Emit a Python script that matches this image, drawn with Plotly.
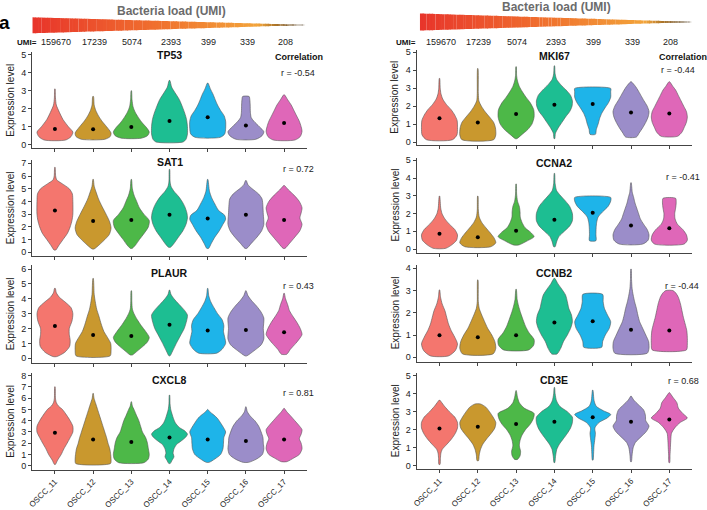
import plotly.graph_objects as go

# ---------------- data ----------------
samples = ["OSCC_11", "OSCC_12", "OSCC_13", "OSCC_14", "OSCC_15", "OSCC_16", "OSCC_17"]
umi_counts = [159670, 17239, 5074, 2393, 399, 339, 208]
colors = ["#F4766E", "#C9982E", "#4DB848", "#1DBE92", "#1EB4E9", "#9B8DC9", "#DF67B8"]

genes = ["TP53", "SAT1", "PLAUR", "CXCL8", "MKI67", "CCNA2", "CCNB2", "CD3E"]
correlations = [-0.54, 0.72, 0.43, 0.81, -0.44, -0.41, -0.44, 0.68]

# violin outlines: expression levels and relative half-widths (density) per sample
tp53_levels = [
    [0.26, 0.45, 0.7, 1.0, 1.4, 1.8, 2.2, 2.6, 3.1],
    [0.3, 0.45, 0.65, 1.0, 1.3, 1.6, 1.9, 2.2, 2.68],
    [0.36, 0.5, 0.7, 0.95, 1.2, 1.5, 1.8, 2.1, 2.5, 3.0],
    [0.15, 0.3, 0.6, 1.0, 1.4, 1.75, 2.1, 2.5, 2.9, 3.2, 3.57],
    [0.41, 0.6, 0.9, 1.3, 1.6, 1.9, 2.2, 2.5, 2.8, 3.1, 3.42],
    [0.3, 0.5, 0.72, 1.0, 1.3, 1.5, 1.8, 2.2, 2.5, 2.68],
    [0.26, 0.45, 0.75, 1.0, 1.3, 1.6, 1.9, 2.2, 2.5, 2.77],
]
tp53_widths = [
    [0.6, 0.9, 1.0, 0.75, 0.45, 0.25, 0.08, 0.03, 0.01],
    [0.65, 0.95, 1.0, 0.75, 0.5, 0.3, 0.15, 0.06, 0.02],
    [0.55, 0.9, 1.0, 0.85, 0.62, 0.4, 0.22, 0.1, 0.04, 0.01],
    [0.75, 0.92, 1.0, 1.0, 0.95, 0.85, 0.72, 0.55, 0.3, 0.12, 0.02],
    [0.7, 0.95, 1.0, 1.0, 0.92, 0.72, 0.55, 0.42, 0.3, 0.15, 0.02],
    [0.55, 0.9, 1.0, 0.75, 0.45, 0.3, 0.25, 0.24, 0.22, 0.18],
    [0.6, 0.9, 1.0, 0.95, 0.85, 0.7, 0.55, 0.4, 0.2, 0.02],
]
tp53_means = [0.87, 0.86, 0.99, 1.32, 1.53, 1.06, 1.21]

sat1_levels = [
    [0.18, 0.5, 1.0, 1.5, 2.0, 2.5, 3.0, 4.0, 4.6, 5.0, 5.4, 5.7, 6.0, 6.69],
    [0.26, 0.6, 1.0, 1.4, 1.9, 2.4, 3.0, 3.6, 4.2, 4.8, 5.2, 5.74],
    [0.31, 0.6, 1.0, 1.5, 2.0, 2.5, 3.0, 3.5, 4.0, 4.5, 5.0, 5.74],
    [0.39, 0.7, 1.2, 1.7, 2.2, 2.7, 3.1, 3.6, 4.0, 4.4, 4.8, 5.2, 5.6, 6.53],
    [0.31, 0.7, 1.2, 1.7, 2.2, 2.6, 2.9, 3.3, 3.8, 4.3, 4.8, 5.74],
    [0.31, 0.7, 1.2, 1.7, 2.2, 3.0, 3.6, 4.2, 4.6, 5.0, 5.3, 5.64],
    [0.31, 0.7, 1.2, 1.7, 2.2, 2.7, 3.1, 3.5, 4.0, 4.5, 4.9, 5.25],
]
sat1_widths = [
    [0.05, 0.2, 0.45, 0.7, 0.85, 0.95, 1.0, 1.0, 0.97, 0.8, 0.4, 0.1, 0.04, 0.01],
    [0.05, 0.35, 0.65, 0.9, 1.0, 0.92, 0.72, 0.5, 0.3, 0.15, 0.06, 0.01],
    [0.05, 0.25, 0.45, 0.72, 0.95, 1.0, 0.7, 0.45, 0.3, 0.15, 0.06, 0.01],
    [0.05, 0.25, 0.5, 0.75, 0.92, 1.0, 0.97, 0.85, 0.7, 0.5, 0.25, 0.08, 0.03, 0.01],
    [0.05, 0.2, 0.4, 0.65, 0.85, 1.0, 0.95, 0.6, 0.4, 0.22, 0.1, 0.01],
    [0.05, 0.3, 0.62, 0.88, 1.0, 0.97, 0.95, 0.9, 0.7, 0.35, 0.12, 0.02],
    [0.05, 0.3, 0.6, 0.88, 1.0, 0.88, 0.95, 1.0, 0.85, 0.55, 0.25, 0.02],
]
sat1_means = [3.28, 2.46, 2.54, 2.96, 2.65, 2.96, 2.54]

plaur_levels = [
    [0.11, 0.4, 0.8, 1.2, 1.6, 2.0, 2.5, 3.0, 3.4, 3.8, 4.1, 4.4, 4.7],
    [0.16, 0.5, 1.0, 1.4, 1.8, 2.3, 2.8, 3.3, 3.8, 4.3, 5.37],
    [0.22, 0.5, 0.8, 1.1, 1.4, 1.8, 2.2, 2.6, 3.0, 3.3, 3.8, 4.54],
    [0.16, 0.5, 1.0, 1.5, 2.0, 2.5, 2.9, 3.2, 3.6, 4.0, 4.3, 4.59],
    [0.34, 0.6, 1.0, 1.4, 1.8, 2.2, 2.6, 3.0, 3.4, 3.8, 4.2, 4.7],
    [0.16, 0.5, 0.9, 1.3, 2.0, 2.7, 3.1, 3.5, 3.9, 4.2, 4.54],
    [0.27, 0.6, 1.0, 1.3, 1.6, 2.0, 2.4, 2.8, 3.2, 3.6, 4.0, 4.37],
]
plaur_widths = [
    [0.1, 0.55, 0.82, 0.85, 0.8, 0.8, 0.95, 1.0, 0.9, 0.55, 0.25, 0.08, 0.02],
    [0.95, 1.0, 0.98, 0.8, 0.6, 0.45, 0.33, 0.2, 0.12, 0.06, 0.01],
    [0.06, 0.35, 0.65, 0.9, 1.0, 0.8, 0.55, 0.33, 0.15, 0.06, 0.03, 0.01],
    [0.03, 0.18, 0.38, 0.6, 0.82, 0.95, 1.0, 0.85, 0.55, 0.25, 0.08, 0.01],
    [0.5, 0.8, 1.0, 0.95, 0.88, 0.9, 0.8, 0.55, 0.35, 0.17, 0.06, 0.01],
    [0.05, 0.45, 0.85, 1.0, 0.97, 1.0, 0.85, 0.6, 0.3, 0.12, 0.01],
    [0.15, 0.35, 0.65, 0.85, 1.0, 0.9, 0.72, 0.5, 0.3, 0.2, 0.08, 0.01],
]
plaur_means = [2.17, 1.57, 1.5, 2.26, 1.86, 1.9, 1.75]

cxcl8_levels = [
    [0.12, 0.5, 1.0, 1.5, 2.0, 2.5, 3.0, 3.5, 4.0, 4.5, 5.0, 5.3, 5.6, 6.0, 7.02],
    [0.2, 0.6, 1.0, 1.5, 2.0, 2.5, 3.0, 3.5, 4.0, 4.5, 5.0, 5.5, 6.0, 6.43],
    [0.27, 0.6, 1.0, 1.5, 2.0, 2.5, 3.0, 3.5, 4.0, 4.5, 5.0, 5.3, 5.69],
    [0.2, 0.5, 0.8, 1.1, 1.5, 1.9, 2.2, 2.5, 2.8, 3.1, 3.4, 3.8, 4.2, 4.6, 5.0, 5.5, 6.28],
    [0.3, 0.6, 1.0, 1.5, 2.0, 2.5, 3.0, 3.4, 3.8, 4.2, 4.5, 4.8, 5.0],
    [0.3, 0.6, 1.0, 1.5, 2.0, 2.5, 3.0, 3.5, 4.0, 4.4, 4.8, 5.24],
    [0.36, 0.7, 1.0, 1.5, 2.0, 2.4, 2.8, 3.2, 3.6, 4.0, 4.4, 4.8, 5.1],
]
cxcl8_widths = [
    [0.03, 0.15, 0.35, 0.5, 0.68, 0.85, 1.0, 1.0, 0.85, 0.65, 0.42, 0.2, 0.08, 0.03, 0.01],
    [0.97, 1.0, 0.98, 0.93, 0.83, 0.75, 0.65, 0.55, 0.45, 0.35, 0.25, 0.15, 0.05, 0.01],
    [0.7, 0.95, 1.0, 0.95, 0.9, 0.8, 0.62, 0.52, 0.42, 0.28, 0.15, 0.06, 0.01],
    [0.04, 0.15, 0.25, 0.2, 0.25, 0.4, 0.65, 0.88, 1.0, 0.85, 0.55, 0.33, 0.22, 0.14, 0.07, 0.03, 0.01],
    [0.08, 0.4, 0.72, 0.85, 0.88, 0.9, 1.0, 0.88, 0.72, 0.55, 0.35, 0.12, 0.01],
    [0.15, 0.6, 0.92, 1.0, 0.97, 0.95, 0.85, 0.72, 0.5, 0.25, 0.08, 0.01],
    [0.15, 0.55, 0.85, 1.0, 0.95, 0.85, 0.95, 1.0, 0.82, 0.6, 0.38, 0.15, 0.01],
]
cxcl8_means = [2.93, 2.34, 2.1, 2.52, 2.34, 2.19, 2.34]

mki67_levels = [
    [0.13, 0.4, 0.8, 1.2, 1.5, 1.8, 2.1, 2.4, 2.7, 3.0, 3.55],
    [0.13, 0.4, 0.8, 1.1, 1.4, 1.7, 2.0, 2.3, 2.7, 4.1],
    [0.19, 0.4, 0.7, 1.0, 1.4, 1.8, 2.2, 2.5, 2.8, 3.1, 3.4, 3.7, 4.2],
    [0.19, 0.5, 0.8, 1.1, 1.4, 1.7, 2.0, 2.3, 2.6, 2.9, 3.2, 3.5, 3.8, 4.25],
    [0.43, 0.7, 1.0, 1.3, 1.6, 1.9, 2.2, 2.5, 2.8, 2.99],
    [0.28, 0.5, 0.8, 1.1, 1.4, 1.7, 2.0, 2.3, 2.6, 2.9, 3.1, 3.36],
    [0.32, 0.55, 0.8, 1.1, 1.4, 1.7, 2.0, 2.3, 2.6, 2.9, 3.1, 3.36],
]
mki67_widths = [
    [0.72, 0.97, 1.0, 0.98, 0.85, 0.65, 0.38, 0.18, 0.08, 0.04, 0.01],
    [0.88, 1.0, 0.98, 0.88, 0.65, 0.4, 0.2, 0.06, 0.03, 0.01],
    [0.04, 0.3, 0.65, 0.88, 1.0, 0.98, 0.78, 0.55, 0.35, 0.18, 0.08, 0.03, 0.01],
    [0.02, 0.06, 0.22, 0.42, 0.62, 0.85, 0.98, 1.0, 0.9, 0.65, 0.35, 0.12, 0.04, 0.01],
    [0.15, 0.2, 0.3, 0.38, 0.5, 0.68, 0.88, 1.0, 1.0, 1.0],
    [0.3, 0.45, 0.65, 0.82, 0.95, 1.0, 0.9, 0.72, 0.55, 0.38, 0.25, 0.02],
    [0.45, 0.7, 0.82, 0.95, 1.0, 0.95, 0.8, 0.65, 0.5, 0.35, 0.2, 0.02],
]
mki67_means = [1.33, 1.09, 1.56, 2.08, 2.12, 1.65, 1.59]

ccna2_levels = [
    [0.04, 0.25, 0.5, 0.8, 1.1, 1.4, 1.7, 2.0, 2.3, 2.99],
    [0.13, 0.35, 0.6, 0.9, 1.2, 1.5, 1.8, 2.2, 2.99],
    [0.23, 0.45, 0.7, 0.95, 1.2, 1.5, 1.8, 2.1, 2.4, 2.7, 3.1, 3.67],
    [0.13, 0.4, 0.7, 1.0, 1.3, 1.6, 2.0, 2.4, 2.7, 3.0, 3.3, 3.7, 4.27],
    [0.47, 0.8, 1.2, 1.5, 1.8, 2.1, 2.4, 2.7, 2.91],
    [0.28, 0.5, 0.8, 1.1, 1.4, 1.7, 2.0, 2.3, 2.6, 2.9, 3.2, 3.74],
    [0.28, 0.5, 0.8, 1.1, 1.4, 1.7, 2.0, 2.3, 2.6, 2.86],
]
ccna2_widths = [
    [0.35, 0.7, 0.95, 1.0, 0.85, 0.55, 0.3, 0.14, 0.07, 0.01],
    [0.72, 1.0, 0.92, 0.7, 0.45, 0.22, 0.08, 0.03, 0.01],
    [0.15, 0.6, 1.0, 0.8, 0.5, 0.33, 0.23, 0.22, 0.18, 0.08, 0.03, 0.01],
    [0.04, 0.12, 0.25, 0.55, 0.85, 1.0, 1.0, 0.85, 0.62, 0.35, 0.12, 0.04, 0.01],
    [0.18, 0.18, 0.19, 0.22, 0.3, 0.55, 0.85, 1.0, 1.0],
    [0.65, 0.95, 1.0, 0.9, 0.7, 0.52, 0.42, 0.32, 0.22, 0.15, 0.07, 0.01],
    [0.82, 1.0, 0.95, 0.75, 0.45, 0.32, 0.3, 0.35, 0.38, 0.35],
]
ccna2_means = [0.86, 0.66, 1.03, 1.65, 2.05, 1.32, 1.17]

ccnb2_levels = [
    [0.06, 0.3, 0.6, 0.9, 1.2, 1.5, 1.8, 2.1, 2.4, 2.7, 3.03],
    [0.15, 0.4, 0.7, 1.0, 1.3, 1.6, 1.9, 2.2, 2.5, 3.48],
    [0.33, 0.55, 0.8, 1.1, 1.4, 1.7, 2.0, 2.3, 2.6, 3.06],
    [0.15, 0.4, 0.7, 1.0, 1.3, 1.6, 1.9, 2.2, 2.5, 2.8, 3.1, 3.3, 3.55],
    [0.45, 0.7, 1.0, 1.3, 1.6, 1.9, 2.2, 2.5, 2.83],
    [0.18, 0.4, 0.7, 1.0, 1.3, 1.6, 1.9, 2.2, 2.5, 2.8, 3.1, 3.5, 3.97],
    [0.33, 0.6, 0.9, 1.2, 1.5, 1.8, 2.1, 2.4, 2.7, 2.9, 3.0],
]
ccnb2_widths = [
    [0.5, 0.88, 1.0, 0.85, 0.65, 0.5, 0.4, 0.3, 0.15, 0.06, 0.01],
    [0.85, 1.0, 0.95, 0.78, 0.55, 0.38, 0.22, 0.08, 0.03, 0.01],
    [0.7, 0.98, 1.0, 0.72, 0.52, 0.38, 0.25, 0.14, 0.06, 0.01],
    [0.15, 0.35, 0.5, 0.72, 0.9, 1.0, 0.95, 0.8, 0.72, 0.62, 0.38, 0.2, 0.02],
    [0.5, 0.55, 0.7, 0.92, 1.0, 0.82, 0.65, 0.58, 0.55],
    [0.9, 1.0, 0.98, 0.82, 0.65, 0.48, 0.38, 0.3, 0.2, 0.12, 0.06, 0.03, 0.01],
    [0.95, 1.0, 1.0, 0.97, 0.88, 0.78, 0.7, 0.62, 0.5, 0.35, 0.2],
]
ccnb2_means = [0.99, 0.9, 0.99, 1.56, 1.62, 1.24, 1.2]

cd3e_levels = [
    [0.07, 0.4, 0.7, 0.9, 1.2, 1.5, 1.8, 2.1, 2.4, 2.7, 3.0, 3.3, 3.65],
    [0.28, 0.6, 0.9, 1.2, 1.5, 1.8, 2.1, 2.4, 2.7, 3.0, 3.25, 3.43],
    [0.35, 0.55, 0.8, 1.1, 1.4, 1.7, 2.0, 2.3, 2.6, 2.9, 3.2, 3.5, 3.8, 4.17],
    [0.17, 0.5, 0.9, 1.2, 1.5, 1.8, 2.1, 2.4, 2.7, 3.0, 3.3, 3.6, 4.0, 4.35],
    [0.31, 0.7, 1.1, 1.5, 1.8, 2.1, 2.4, 2.65, 2.85, 3.05, 3.3, 3.6, 4.2],
    [0.22, 0.6, 1.0, 1.3, 1.6, 1.9, 2.2, 2.5, 2.8, 3.1, 3.4, 3.65, 3.87],
    [0.17, 0.6, 1.0, 1.4, 1.8, 2.1, 2.4, 2.65, 2.9, 3.2, 3.5, 3.8, 4.06],
]
cd3e_widths = [
    [0.03, 0.05, 0.08, 0.15, 0.42, 0.68, 0.88, 1.0, 1.0, 0.85, 0.55, 0.28, 0.01],
    [0.04, 0.08, 0.15, 0.28, 0.5, 0.75, 0.95, 1.0, 0.85, 0.65, 0.45, 0.15],
    [0.08, 0.22, 0.25, 0.18, 0.22, 0.33, 0.52, 0.78, 0.95, 1.0, 0.45, 0.18, 0.08, 0.01],
    [0.02, 0.06, 0.13, 0.28, 0.5, 0.72, 0.9, 1.0, 1.0, 0.72, 0.3, 0.12, 0.04, 0.01],
    [0.02, 0.05, 0.07, 0.12, 0.15, 0.12, 0.35, 0.8, 1.0, 0.6, 0.2, 0.08, 0.01],
    [0.02, 0.06, 0.12, 0.25, 0.55, 0.85, 1.0, 0.82, 0.8, 0.7, 0.4, 0.15, 0.01],
    [0.02, 0.04, 0.06, 0.08, 0.12, 0.3, 0.6, 1.0, 0.75, 0.5, 0.42, 0.2, 0.01],
]
cd3e_means = [2.07, 2.17, 2.31, 2.44, 2.69, 2.44, 2.57]

all_levels = [tp53_levels, sat1_levels, plaur_levels, cxcl8_levels,
              mki67_levels, ccna2_levels, ccnb2_levels, cd3e_levels]
all_widths = [tp53_widths, sat1_widths, plaur_widths, cxcl8_widths,
              mki67_widths, ccna2_widths, ccnb2_widths, cd3e_widths]
all_means = [tp53_means, sat1_means, plaur_means, cxcl8_means,
             mki67_means, ccna2_means, ccnb2_means, cd3e_means]

# ---------------- layout geometry (pixels) ----------------
W, H = 707, 510
FONT = "Liberation Sans, Arial, Helvetica, sans-serif"
col_px = [(32, 307), (416.5, 692.3)]
rows_px = [(52, 148.3), (160, 255.5), (265, 362.7), (372.7, 470),
           (50, 145.3), (157.5, 253.3), (265, 361.7), (373, 469.3)]
y_ranges = [[-0.2, 5.15], [-0.25, 7.26], [-0.3, 6.27], [-0.38, 8.27],
            [-0.18, 5.13], [-0.24, 5.16], [-0.2, 4.15], [-0.2, 5.15]]
title_y_px = [55, 161.7, 273, 380, 56, 163.3, 272.7, 380]
r_pos_px = [(298, 73), (298, 169), (298, 285.7), (298, 393.3),
            (678, 70), (682.7, 177), (682, 285.7), (683, 380.7)]
HALF = 0.47


def px(x):
    return x / W


def py(y):
    return 1 - y / H


fig = go.Figure()
layout = dict(
    template="none",
    width=W, height=H, margin=dict(l=0, r=0, t=0, b=0, pad=0), autosize=False,
    paper_bgcolor="white", plot_bgcolor="rgba(0,0,0,0)", showlegend=False,
    hovermode=False, font=dict(family=FONT, color="#222", size=9),
)
annotations = []
shapes = []

for k in range(8):
    idx = k + 1
    col = 0 if k < 4 else 1
    x0, x1 = col_px[col]
    t, b = rows_px[k]
    xa = "x" if idx == 1 else f"x{idx}"
    ya = "y" if idx == 1 else f"y{idx}"
    bottom = k in (3, 7)
    layout["xaxis" if idx == 1 else f"xaxis{idx}"] = dict(
        domain=[px(x0), px(x1)], anchor=ya, range=[0.4, 7.6], automargin=False,
        tickmode="array", tickvals=list(range(1, 8)), ticktext=samples,
        showticklabels=bottom, tickangle=-45, tickfont=dict(size=8, color="#222"),
        ticks="outside", ticklen=3, tickwidth=1, tickcolor="#444",
        showline=True, linecolor="#444", linewidth=1,
        showgrid=False, zeroline=False, fixedrange=True,
    )
    layout["yaxis" if idx == 1 else f"yaxis{idx}"] = dict(
        domain=[py(b), py(t)], anchor=xa, range=y_ranges[k], automargin=False,
        tickmode="linear", tick0=0, dtick=1, tickfont=dict(size=9, color="#222"),
        ticks="outside", ticklen=3, tickwidth=1, tickcolor="#444",
        showline=True, linecolor="#444", linewidth=1,
        showgrid=False, zeroline=False, fixedrange=True,
    )

    for i in range(7):
        c = i + 1
        lv = all_levels[k][i]
        wd = all_widths[k][i]
        xs = [c + w * HALF for w in wd] + [c - w * HALF for w in reversed(wd)]
        ys = list(lv) + list(reversed(lv))
        xs.append(xs[0])
        ys.append(ys[0])
        fig.add_trace(go.Scatter(
            x=xs, y=ys, xaxis=xa, yaxis=ya, mode="lines", fill="toself",
            fillcolor=colors[i], line=dict(color="#555555", width=0.6, shape="spline", smoothing=0.7),
            hoverinfo="skip",
        ))
    fig.add_trace(go.Scatter(
        x=list(range(1, 8)), y=all_means[k], xaxis=xa, yaxis=ya, mode="markers",
        marker=dict(color="black", size=4), hoverinfo="skip",
    ))

    annotations.append(dict(
        text=f"<b>{genes[k]}</b>", x=px((x0 + x1) / 2), y=py(title_y_px[k]),
        xref="paper", yref="paper", showarrow=False, xanchor="center", yanchor="middle",
        font=dict(size=10.5, color="#111"),
    ))
    rx, ry = r_pos_px[k]
    annotations.append(dict(
        text=f"r = {correlations[k]:.2f}", x=px(rx), y=py(ry),
        xref="paper", yref="paper", showarrow=False, xanchor="center", yanchor="middle",
        font=dict(size=9, color="#222"),
    ))
    annotations.append(dict(
        text="Expression level", x=px(10.5 if col == 0 else 395), y=py((t + b) / 2),
        xref="paper", yref="paper", showarrow=False, textangle=-90,
        xanchor="center", yanchor="middle", font=dict(size=10, color="#222"),
    ))

for cx in (299, 683):
    annotations.append(dict(
        text="<b>Correlation</b>", x=px(cx), y=py(56.5), xref="paper", yref="paper",
        showarrow=False, xanchor="center", yanchor="middle", font=dict(size=9, color="#111"),
    ))

for col, xref in ((0, "x"), (1, "x5")):
    annotations.append(dict(
        text="<b>UMI=</b>", x=px(27.5 if col == 0 else 405.5), y=py(42.3), xref="paper", yref="paper",
        showarrow=False, xanchor="center", yanchor="middle", font=dict(size=8, color="#111"),
    ))
    for i, u in enumerate(umi_counts):
        annotations.append(dict(
            text=str(u), x=i + 1.03, y=py(42.3), xref=xref, yref="paper",
            showarrow=False, xanchor="center", yanchor="middle", font=dict(size=9, color="#222"),
        ))

annotations.append(dict(text="<b>Bacteria load (UMI)</b>", x=px(171.8), y=py(10.5), xref="paper", yref="paper",
                        showarrow=False, xanchor="center", yanchor="middle",
                        font=dict(size=12, color="#6b6b6b")))
annotations.append(dict(text="<b>Bacteria load (UMI)</b>", x=px(556.7), y=py(7), xref="paper", yref="paper",
                        showarrow=False, xanchor="center", yanchor="middle",
                        font=dict(size=12, color="#6b6b6b")))
annotations.append(dict(text="<b>a</b>", x=px(4.5), y=py(23), xref="paper", yref="paper",
                        showarrow=False, xanchor="center", yanchor="middle",
                        font=dict(size=19, color="#000")))

# gradient wedges as thin vertical strips (decoration)
grad_stops = [(0.0, (232, 52, 43)), (0.45, (240, 112, 46)), (0.82, (242, 164, 58)), (1.0, (42, 28, 8))]


def grad_color(f):
    for (f0, c0), (f1, c1) in zip(grad_stops[:-1], grad_stops[1:]):
        if f <= f1:
            u = (f - f0) / (f1 - f0) if f1 > f0 else 0
            return "rgb(%d,%d,%d)" % tuple(round(c0[j] + (c1[j] - c0[j]) * u) for j in range(3))
    return "rgb(%d,%d,%d)" % grad_stops[-1][1]


wedges = [((32.3, 17.3, 33.3), (308, 25)), ((420, 13.5, 30.5), (695, 22))]
N = 90
for (lx, ltop, lbot), (tx, ty) in wedges:
    for s in range(N):
        f0, f1 = s / N, (s + 1) / N
        xa0 = lx + (tx - lx) * f0
        xa1 = lx + (tx - lx) * f1 + 0.4
        top0 = ltop + (ty - ltop) * f0
        bot0 = lbot + (ty - lbot) * f0
        top1 = ltop + (ty - ltop) * min(f1, 1)
        bot1 = lbot + (ty - lbot) * min(f1, 1)
        path = "M {:.3f},{:.4f} L {:.3f},{:.4f} L {:.3f},{:.4f} L {:.3f},{:.4f} Z".format(
            px(xa0), py(top0), px(xa1), py(top1), px(xa1), py(bot1), px(xa0), py(bot0))
        shapes.append(dict(type="path", path=path, xref="paper", yref="paper",
                           fillcolor=grad_color((f0 + f1) / 2), line=dict(width=0), layer="below"))

layout["annotations"] = annotations
layout["shapes"] = shapes
fig.update_layout(**layout)
fig.write_html(
    "out.html", include_plotlyjs=True, config={"displayModeBar": False},
    post_script=["document.body.style.margin='0';document.body.style.overflow='hidden';"],
)
